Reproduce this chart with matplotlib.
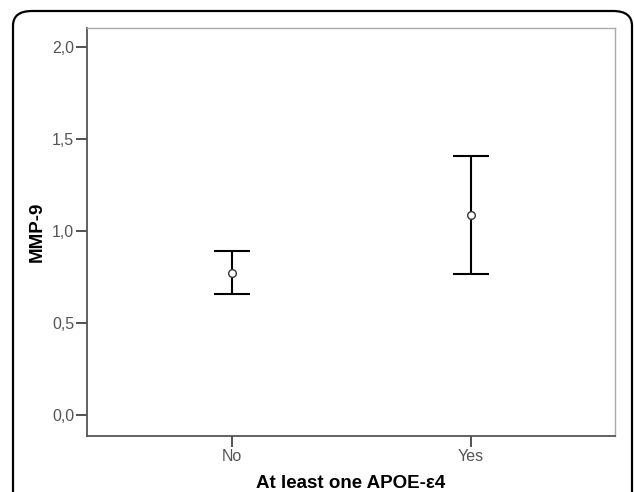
import matplotlib.pyplot as plt
import numpy as np
from matplotlib.patches import FancyBboxPatch
from matplotlib.ticker import FuncFormatter

plt.rcParams['font.family'] = ['Liberation Sans', 'DejaVu Sans']

# data
groups = ['No', 'Yes']
means = [0.772, 1.087]
lower = [0.658, 0.766]
upper = [0.891, 1.408]

x = np.arange(len(groups))
err = [np.array(means) - np.array(lower), np.array(upper) - np.array(means)]

fig = plt.figure(figsize=(6.34, 4.92), dpi=100)
ax = fig.add_axes([0.137, 0.1138, 0.833, 0.829])

ax.errorbar(x, means, yerr=err, fmt='none', ecolor='black', elinewidth=1.5,
            capsize=13, capthick=1.5)
ax.plot(x, means, 'o', mfc='white', mec='#333333', ms=5.5, mew=1.0)

ax.set_xlim(-0.607, 1.603)
ax.set_ylim(-0.114, 2.103)
ax.set_xticks(x)
ax.set_xticklabels(groups)
ax.set_yticks([0.0, 0.5, 1.0, 1.5, 2.0])
ax.yaxis.set_major_formatter(FuncFormatter(lambda v, p: ('%.1f' % v).replace('.', ',')))

ax.tick_params(axis='both', direction='out', length=8, width=1.3, color='#444444',
               labelsize=11.5, labelcolor='#555555', pad=1)
for s in ['left', 'bottom']:
    ax.spines[s].set_color('#555555')
    ax.spines[s].set_linewidth(1.3)
for s in ['top', 'right']:
    ax.spines[s].set_color('#aaaaaa')
    ax.spines[s].set_linewidth(1.0)

ax.set_xlabel('At least one APOE-ε4', fontsize=13.5, fontweight='bold', labelpad=8)
ax.set_ylabel('MMP-9', fontsize=13.5, fontweight='bold', labelpad=5)

# rounded frame around the figure
frame = FancyBboxPatch((13 / 634, -0.05), 619 / 634, 1.05 - 11 / 492,
                       boxstyle='round,pad=0,rounding_size=0.03',
                       transform=fig.transFigure, fill=False,
                       edgecolor='black', linewidth=1.6, clip_on=False)
fig.patches.append(frame)

fig.savefig('out.png', dpi=100)
